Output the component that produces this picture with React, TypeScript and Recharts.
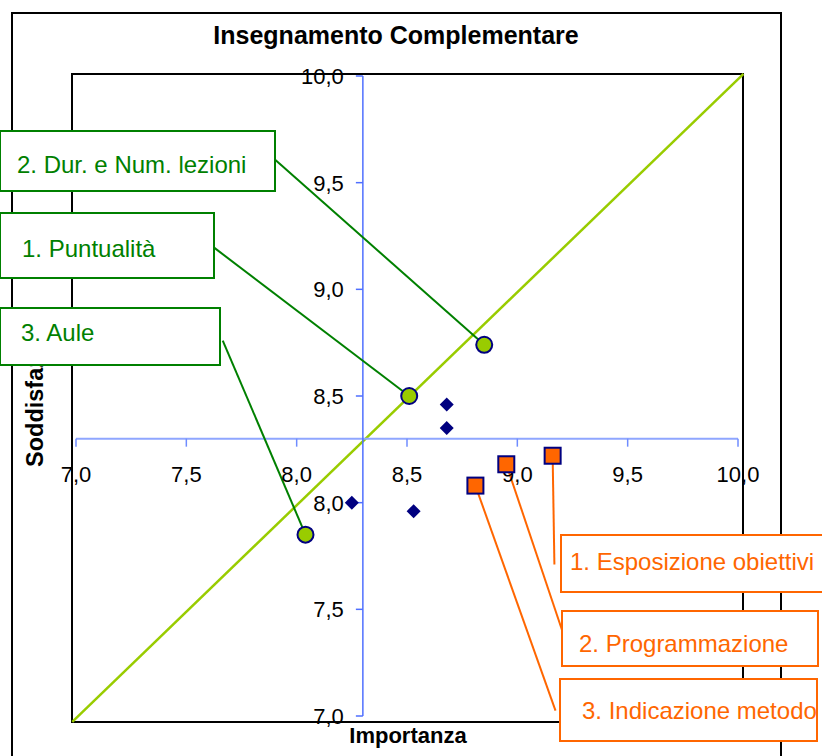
import { ReferenceDot, ReferenceLine, Scatter, ScatterChart, XAxis, YAxis } from "recharts";

// valori (Importanza = x, Soddisfazione = y)
const ticks = [7, 7.5, 8, 8.5, 9, 9.5, 10];
const cross = 8.3;

const puntiForzaLabels = ["2. Dur. e Num. lezioni", "1. Puntualità", "3. Aule"];
const puntiForzaImp = [8.85, 8.51, 8.04];
const puntiForzaSod = [8.74, 8.5, 7.85];

const criticiLabels = ["1. Esposizione obiettivi", "2. Programmazione", "3. Indicazione metodo"];
const criticiImp = [9.16, 8.95, 8.81];
const criticiSod = [8.22, 8.18, 8.08];

const altriImp = [8.68, 8.68, 8.25, 8.53];
const altriSod = [8.46, 8.35, 8.0, 7.96];

// diagonale da angolo ad angolo dell'area del grafico
const diagonale = [
  { x: 6.983, y: 6.972 },
  { x: 10.025, y: 10.01 },
];

const W = 822;
const H = 756;
const FONT = "Arial, 'Liberation Sans', sans-serif";
const GREEN = "#008000";
const ORANGE = "#ff6600";
const NAVY = "#000080";

const toPts = (xs: number[], ys: number[]) => xs.map((x, i) => ({ x, y: ys[i] }));
const fmt = (v: number) => v.toFixed(1).replace(".", ",");

// riquadri delle etichette (pixel) e punto di attacco della linea (unità del grafico)
const boxVerdi = [
  { x: 0, y: 131, w: 275, h: 60, tx: 17, ty: 173, ax: 7.9, ay: 9.61 },
  { x: 0, y: 213, w: 214, h: 65, tx: 22, ty: 257, ax: 7.62, ay: 9.2 },
  { x: 0, y: 308, w: 220, h: 57, tx: 21, ty: 341, ax: 7.665, ay: 8.76 },
];
const boxArancio = [
  { x: 561, y: 535, w: 280, h: 57, tx: 570, ty: 570, ax: 9.168, ay: 7.71 },
  { x: 562, y: 611, w: 256, h: 55, tx: 579, ty: 652, ax: 9.223, ay: 7.34 },
  { x: 560, y: 679, w: 257, h: 62, tx: 582, ty: 719, ax: 9.173, ay: 7.025 },
];

const Cerchio = (p: any) => (
  <circle cx={p.cx} cy={p.cy} r={8} fill="#99cc00" stroke={NAVY} strokeWidth={2} />
);
const Quadrato = (p: any) => (
  <rect x={p.cx - 8} y={p.cy - 8} width={16} height={16} fill={ORANGE} stroke={NAVY} strokeWidth={2} />
);
const Rombo = (p: any) => (
  <polygon
    points={`${p.cx},${p.cy - 7} ${p.cx + 7},${p.cy} ${p.cx},${p.cy + 7} ${p.cx - 7},${p.cy}`}
    fill={NAVY}
  />
);

const TickX = (p: any) => (
  <g>
    <line x1={p.cx} y1={p.cy} x2={p.cx} y2={p.cy + 8} stroke="#6f8cff" strokeWidth={1.5} />
    <text x={p.cx} y={p.cy + 43} textAnchor="middle" fontSize={22} fontFamily={FONT} fill="#000">
      {p.lbl}
    </text>
  </g>
);
const TickY = (p: any) => (
  <g>
    <line x1={p.cx - 7} y1={p.cy} x2={p.cx} y2={p.cy} stroke="#4f6fff" strokeWidth={1.5} />
    <text x={p.cx - 19} y={p.cy + 8} textAnchor="end" fontSize={22} fontFamily={FONT} fill="#000">
      {p.lbl}
    </text>
  </g>
);

export default function App() {
  return (
    <div style={{ position: "relative", width: W, height: H, overflow: "hidden", background: "#fff" }}>
      <style>{"body{margin:0}"}</style>
      <svg width={W} height={H} style={{ position: "absolute", left: 0, top: 0 }}>
        <rect x={12} y={13} width={769} height={780} fill="#fff" stroke="#000" strokeWidth={2} />
        <rect x={72} y={74} width={671} height={648} fill="#fff" stroke="#000" strokeWidth={2} />
        <text x={396} y={44} textAnchor="middle" fontSize={25} fontWeight="bold" fontFamily={FONT}>
          Insegnamento Complementare
        </text>
        <text x={408} y={743} textAnchor="middle" fontSize={22} fontWeight="bold" fontFamily={FONT}>
          Importanza
        </text>
        <text
          x={43}
          y={467}
          transform="rotate(-90 43 467)"
          fontSize={23.5}
          fontWeight="bold"
          fontFamily={FONT}
        >
          Soddisfazione
        </text>
      </svg>

      <div style={{ position: "absolute", left: 0, top: 0 }}>
        <ScatterChart width={W} height={H} margin={{ top: 76, right: 84, bottom: 40, left: 76 }}>
          <XAxis type="number" dataKey="x" domain={[7, 10]} hide allowDataOverflow />
          <YAxis type="number" dataKey="y" domain={[7, 10]} hide allowDataOverflow />
          <ReferenceLine segment={diagonale} stroke="#99cc00" strokeWidth={2.5} ifOverflow="visible" />
          <ReferenceLine
            segment={[{ x: 7, y: cross }, { x: 10, y: cross }]}
            stroke="#8fa6ff"
            strokeWidth={2}
            ifOverflow="visible"
          />
          <ReferenceLine
            segment={[{ x: cross, y: 7 }, { x: cross, y: 10 }]}
            stroke="#4f6fff"
            strokeWidth={1.5}
            ifOverflow="visible"
          />
          {ticks.map((t) => (
            <ReferenceDot
              key={`x${t}`}
              x={t}
              y={cross}
              r={0}
              ifOverflow="visible"
              shape={(p: any) => <TickX {...p} lbl={fmt(t)} />}
            />
          ))}
          {ticks.map((t) => (
            <ReferenceDot
              key={`y${t}`}
              x={cross}
              y={t}
              r={0}
              ifOverflow="visible"
              shape={(p: any) => <TickY {...p} lbl={fmt(t)} />}
            />
          ))}
          {boxVerdi.map((b, i) => (
            <ReferenceLine
              key={`lv${i}`}
              segment={[{ x: b.ax, y: b.ay }, { x: puntiForzaImp[i], y: puntiForzaSod[i] }]}
              stroke={GREEN}
              strokeWidth={2}
              ifOverflow="visible"
            />
          ))}
          {boxArancio.map((b, i) => (
            <ReferenceLine
              key={`la${i}`}
              segment={[{ x: criticiImp[i], y: criticiSod[i] }, { x: b.ax, y: b.ay }]}
              stroke={ORANGE}
              strokeWidth={2}
              ifOverflow="visible"
            />
          ))}
          <Scatter data={toPts(altriImp, altriSod)} shape={Rombo} isAnimationActive={false} />
          <Scatter data={toPts(puntiForzaImp, puntiForzaSod)} shape={Cerchio} isAnimationActive={false} />
          <Scatter data={toPts(criticiImp, criticiSod)} shape={Quadrato} isAnimationActive={false} />
        </ScatterChart>
      </div>

      <svg width={W} height={H} style={{ position: "absolute", left: 0, top: 0, pointerEvents: "none" }}>
        {boxVerdi.map((b, i) => (
          <g key={`bv${i}`}>
            <rect x={b.x} y={b.y} width={b.w} height={b.h} fill="#fff" stroke={GREEN} strokeWidth={2} />
            <text x={b.tx} y={b.ty} fontSize={24} fontFamily={FONT} fill={GREEN}>
              {puntiForzaLabels[i]}
            </text>
          </g>
        ))}
        {boxArancio.map((b, i) => (
          <g key={`ba${i}`}>
            <rect x={b.x} y={b.y} width={b.w} height={b.h} fill="#fff" stroke={ORANGE} strokeWidth={2} />
            <text x={b.tx} y={b.ty} fontSize={24} fontFamily={FONT} fill={ORANGE}>
              {criticiLabels[i]}
            </text>
          </g>
        ))}
      </svg>
    </div>
  );
}
